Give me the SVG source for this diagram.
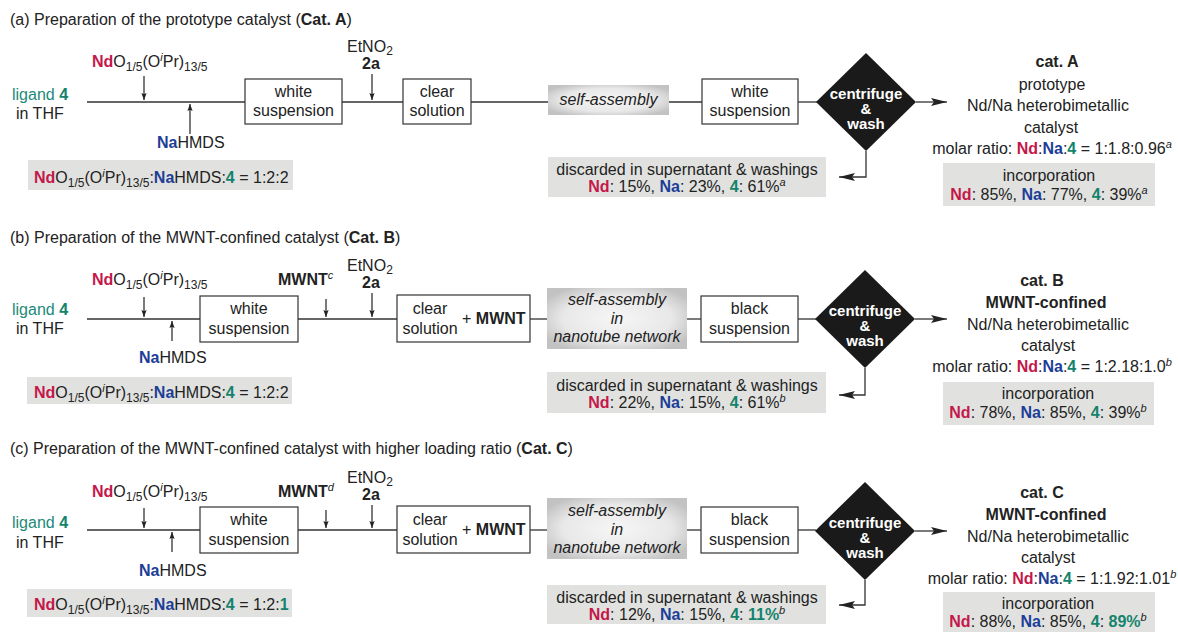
<svg xmlns="http://www.w3.org/2000/svg" width="1178" height="632" viewBox="0 0 1178 632">
<defs>
<style>
.t{font-family:"Liberation Sans",Arial,sans-serif;font-size:16px;fill:#222}
.c{text-anchor:middle}
.b{font-weight:bold}
.nd{fill:#c4184b;font-weight:bold}
.na{fill:#1d3e97;font-weight:bold}
.l4{fill:#14836c;font-weight:bold}
.lg{fill:#1d8a78}
.box{fill:#fff;stroke:#333;stroke-width:1.2}
.gray{fill:#e1e2e0}
.sa{fill:url(#sg)}
.ln{stroke:#333;stroke-width:1.3;fill:none}
.dia{fill:#1a1a1a}
.dt{font-family:"Liberation Sans",Arial,sans-serif;font-size:15px;font-weight:bold;fill:#fff;text-anchor:middle}
.sub{font-size:12px}
.sup{font-size:11px;font-style:italic}
</style>
<radialGradient id="sg" cx="0.5" cy="0.5" r="0.6">
<stop offset="0" stop-color="#f6f6f6"/>
<stop offset="0.65" stop-color="#e8e8e8"/>
<stop offset="1" stop-color="#c2c2c2"/>
</radialGradient>
<marker id="sm" viewBox="0 0 8 6" refX="8" refY="3" markerWidth="7" markerHeight="5.5" markerUnits="userSpaceOnUse" orient="auto"><path d="M0,0 L8,3 L0,6 L1.5,3z" fill="#222"/></marker>
<marker id="bg" viewBox="0 0 16 8" refX="16" refY="4" markerWidth="16" markerHeight="8" markerUnits="userSpaceOnUse" orient="auto"><path d="M0,0 L16,4 L0,8 L3,4z" fill="#222"/></marker>
</defs>
<rect width="1178" height="632" fill="#fff"/>

<g id="connectors">
<!-- a -->
<line class="ln" x1="87" y1="102" x2="245" y2="102"/>
<line class="ln" x1="342" y1="102" x2="403" y2="102"/>
<line class="ln" x1="471" y1="102" x2="548" y2="102"/>
<line class="ln" x1="669" y1="102" x2="702" y2="102"/>
<line class="ln" x1="798" y1="102" x2="817" y2="102"/>
<line class="ln" x1="144" y1="76" x2="144" y2="100" marker-end="url(#sm)"/>
<line class="ln" x1="190" y1="134" x2="190" y2="104" marker-end="url(#sm)"/>
<line class="ln" x1="372" y1="74" x2="372" y2="100" marker-end="url(#sm)"/>
<line class="ln" x1="916" y1="102" x2="947" y2="102" marker-end="url(#bg)"/>
<polyline class="ln" points="866,151 866,177 839,177" marker-end="url(#bg)"/>
<!-- b -->
<line class="ln" x1="87" y1="319" x2="200" y2="319"/>
<line class="ln" x1="298" y1="319" x2="397" y2="319"/>
<line class="ln" x1="530" y1="319" x2="547" y2="319"/>
<line class="ln" x1="687" y1="319" x2="701" y2="319"/>
<line class="ln" x1="798" y1="319" x2="816" y2="319"/>
<line class="ln" x1="144" y1="297" x2="144" y2="317" marker-end="url(#sm)"/>
<line class="ln" x1="172" y1="341" x2="172" y2="321" marker-end="url(#sm)"/>
<line class="ln" x1="326" y1="299" x2="326" y2="317" marker-end="url(#sm)"/>
<line class="ln" x1="372" y1="293" x2="372" y2="317" marker-end="url(#sm)"/>
<line class="ln" x1="915" y1="319" x2="947" y2="319" marker-end="url(#bg)"/>
<polyline class="ln" points="865,368 865,395 839,395" marker-end="url(#bg)"/>
<!-- c -->
<line class="ln" x1="87" y1="530" x2="200" y2="530"/>
<line class="ln" x1="298" y1="530" x2="397" y2="530"/>
<line class="ln" x1="530" y1="530" x2="547" y2="530"/>
<line class="ln" x1="687" y1="530" x2="701" y2="530"/>
<line class="ln" x1="798" y1="530" x2="816" y2="530"/>
<line class="ln" x1="144" y1="508" x2="144" y2="528" marker-end="url(#sm)"/>
<line class="ln" x1="172" y1="552" x2="172" y2="532" marker-end="url(#sm)"/>
<line class="ln" x1="326" y1="510" x2="326" y2="528" marker-end="url(#sm)"/>
<line class="ln" x1="372" y1="505" x2="372" y2="528" marker-end="url(#sm)"/>
<line class="ln" x1="915" y1="531" x2="947" y2="531" marker-end="url(#bg)"/>
<polyline class="ln" points="865,580 865,605 839,605" marker-end="url(#bg)"/>
</g>

<!-- ================= Section (a) ================= -->
<text class="t" x="10" y="25">(a) Preparation of the prototype catalyst (<tspan class="b">Cat. A</tspan>)</text>
<g id="a-ligand">
<text class="t lg" x="12" y="100">ligand <tspan class="l4">4</tspan></text>
<text class="t" x="16" y="119">in THF</text>
</g>
<g id="a-nd">
<text class="t" x="92" y="67"><tspan class="nd">Nd</tspan>O<tspan class="sub" dy="4">1/5</tspan><tspan dy="-4">(O</tspan><tspan class="sup" dy="-6">i</tspan><tspan dy="6">Pr)</tspan><tspan class="sub" dy="4">13/5</tspan></text>
</g>
<g id="a-nahmds"><text class="t" x="157" y="148"><tspan class="na">Na</tspan>HMDS</text></g>
<g id="a-etno2">
<text class="t" x="347" y="52">EtNO<tspan class="sub" dy="3">2</tspan></text>
<text class="t b c" x="371" y="69">2a</text>
</g>
<g id="a-ratio">
<rect class="gray" x="28" y="160" width="265" height="30"/>
<text class="t" x="34" y="183"><tspan class="nd">Nd</tspan>O<tspan class="sub" dy="4">1/5</tspan><tspan dy="-4">(O</tspan><tspan class="sup" dy="-6">i</tspan><tspan dy="6">Pr)</tspan><tspan class="sub" dy="4">13/5</tspan><tspan dy="-4">:</tspan><tspan class="na">Na</tspan>HMDS:<tspan class="l4">4</tspan> = 1:2:2</text>
</g>
<g id="a-white1">
<rect class="box" x="245" y="79" width="97" height="45"/>
<text class="t c" x="293.5" y="97">white</text>
<text class="t c" x="293.5" y="116">suspension</text>
</g>
<g id="a-clear">
<rect class="box" x="403" y="79" width="68" height="45"/>
<text class="t c" x="437" y="97">clear</text>
<text class="t c" x="437" y="116">solution</text>
</g>
<g id="a-self">
<rect class="sa" x="548" y="85" width="121" height="30"/>
<text class="t c" x="608.5" y="105" font-style="italic">self-assembly</text>
</g>
<g id="a-white2">
<rect class="box" x="702" y="79" width="96" height="45"/>
<text class="t c" x="750" y="97">white</text>
<text class="t c" x="750" y="116">suspension</text>
</g>
<g id="a-centrifuge">
<polygon class="dia" points="866,53 916,102 866,151 816,102"/>
<text class="dt" x="866" y="99">centrifuge</text>
<text class="dt" x="866" y="114">&amp;</text>
<text class="dt" x="866" y="129">wash</text>
</g>
<g id="a-discard">
<rect class="gray" x="548" y="157" width="278" height="40"/>
<text class="t c" x="687" y="175">discarded in supernatant &amp; washings</text>
<text class="t c" x="687" y="192"><tspan class="nd">Nd</tspan>: 15%, <tspan class="na">Na</tspan>: 23%, <tspan class="l4">4</tspan>: 61%<tspan class="sup" dy="-6">a</tspan></text>
</g>
<g id="a-cat">
<text class="t c b" x="1057" y="67">cat. A</text>
<text class="t c" x="1052" y="90">prototype</text>
<text class="t c" x="1048" y="111">Nd/Na heterobimetallic</text>
<text class="t c" x="1051" y="133">catalyst</text>
<text class="t c" x="1052" y="154">molar ratio: <tspan class="nd">Nd</tspan>:<tspan class="na">Na</tspan>:<tspan class="l4">4</tspan> = 1:1.8:0.96<tspan class="sup" dy="-6">a</tspan></text>
<rect class="gray" x="943" y="163" width="212" height="43"/>
<text class="t c" x="1049" y="181">incorporation</text>
<text class="t c" x="1049" y="200"><tspan class="nd">Nd</tspan>: 85%, <tspan class="na">Na</tspan>: 77%, <tspan class="l4">4</tspan>: 39%<tspan class="sup" dy="-6">a</tspan></text>
</g>

<!-- ================= Section (b) ================= -->
<text class="t" x="10" y="243">(b) Preparation of the MWNT-confined catalyst (<tspan class="b">Cat. B</tspan>)</text>
<g id="b-ligand">
<text class="t lg" x="12" y="315">ligand <tspan class="l4">4</tspan></text>
<text class="t" x="16" y="334">in THF</text>
</g>
<g id="b-nd">
<text class="t" x="92" y="285"><tspan class="nd">Nd</tspan>O<tspan class="sub" dy="4">1/5</tspan><tspan dy="-4">(O</tspan><tspan class="sup" dy="-6">i</tspan><tspan dy="6">Pr)</tspan><tspan class="sub" dy="4">13/5</tspan></text>
</g>
<g id="b-nahmds"><text class="t" x="139" y="363"><tspan class="na">Na</tspan>HMDS</text></g>
<g id="b-mwnt"><text class="t b" x="278" y="285">MWNT<tspan class="sup" font-weight="normal" dy="-6">c</tspan></text></g>
<g id="b-etno2">
<text class="t" x="347" y="271">EtNO<tspan class="sub" dy="3">2</tspan></text>
<text class="t b c" x="371" y="288">2a</text>
</g>
<g id="b-ratio">
<rect class="gray" x="27" y="377" width="265" height="27"/>
<text class="t" x="34" y="398"><tspan class="nd">Nd</tspan>O<tspan class="sub" dy="4">1/5</tspan><tspan dy="-4">(O</tspan><tspan class="sup" dy="-6">i</tspan><tspan dy="6">Pr)</tspan><tspan class="sub" dy="4">13/5</tspan><tspan dy="-4">:</tspan><tspan class="na">Na</tspan>HMDS:<tspan class="l4">4</tspan> = 1:2:2</text>
</g>
<g id="b-white">
<rect class="box" x="200" y="296" width="98" height="46"/>
<text class="t c" x="249" y="314">white</text>
<text class="t c" x="249" y="334">suspension</text>
</g>
<g id="b-clear">
<rect class="box" x="397" y="295" width="133" height="47"/>
<text class="t c" x="430" y="314">clear</text>
<text class="t c" x="430" y="334">solution</text>
<text class="t" x="462" y="324">+ <tspan class="b">MWNT</tspan></text>
</g>
<g id="b-self">
<rect class="sa" x="547" y="288" width="140" height="61"/>
<text class="t c" x="617" y="305" font-style="italic">self-assembly</text>
<text class="t c" x="617" y="324" font-style="italic">in</text>
<text class="t c" x="617" y="342" font-style="italic">nanotube network</text>
</g>
<g id="b-black">
<rect class="box" x="701" y="296" width="97" height="46"/>
<text class="t c" x="749.5" y="314">black</text>
<text class="t c" x="749.5" y="334">suspension</text>
</g>
<g id="b-centrifuge">
<polygon class="dia" points="865,270 915,319 865,368 815,319"/>
<text class="dt" x="865" y="316">centrifuge</text>
<text class="dt" x="865" y="331">&amp;</text>
<text class="dt" x="865" y="346">wash</text>
</g>
<g id="b-discard">
<rect class="gray" x="547" y="372" width="279" height="41"/>
<text class="t c" x="687" y="391">discarded in supernatant &amp; washings</text>
<text class="t c" x="687" y="408"><tspan class="nd">Nd</tspan>: 22%, <tspan class="na">Na</tspan>: 15%, <tspan class="l4">4</tspan>: 61%<tspan class="sup" dy="-6">b</tspan></text>
</g>
<g id="b-cat">
<text class="t c b" x="1042" y="286">cat. B</text>
<text class="t c b" x="1046" y="308">MWNT-confined</text>
<text class="t c" x="1048" y="330">Nd/Na heterobimetallic</text>
<text class="t c" x="1048" y="351">catalyst</text>
<text class="t c" x="1052" y="372">molar ratio: <tspan class="nd">Nd</tspan>:<tspan class="na">Na</tspan>:<tspan class="l4">4</tspan> = 1:2.18:1.0<tspan class="sup" dy="-6">b</tspan></text>
<rect class="gray" x="943" y="382" width="211" height="43"/>
<text class="t c" x="1048" y="399">incorporation</text>
<text class="t c" x="1048" y="418"><tspan class="nd">Nd</tspan>: 78%, <tspan class="na">Na</tspan>: 85%, <tspan class="l4">4</tspan>: 39%<tspan class="sup" dy="-6">b</tspan></text>
</g>

<!-- ================= Section (c) ================= -->
<text class="t" x="10" y="454">(c) Preparation of the MWNT-confined catalyst with higher loading ratio (<tspan class="b">Cat. C</tspan>)</text>
<g id="c-ligand">
<text class="t lg" x="12" y="528">ligand <tspan class="l4">4</tspan></text>
<text class="t" x="16" y="548">in THF</text>
</g>
<g id="c-nd">
<text class="t" x="92" y="497"><tspan class="nd">Nd</tspan>O<tspan class="sub" dy="4">1/5</tspan><tspan dy="-4">(O</tspan><tspan class="sup" dy="-6">i</tspan><tspan dy="6">Pr)</tspan><tspan class="sub" dy="4">13/5</tspan></text>
</g>
<g id="c-nahmds"><text class="t" x="139" y="576"><tspan class="na">Na</tspan>HMDS</text></g>
<g id="c-mwnt"><text class="t b" x="278" y="497">MWNT<tspan class="sup" font-weight="normal" dy="-6">d</tspan></text></g>
<g id="c-etno2">
<text class="t" x="347" y="483">EtNO<tspan class="sub" dy="3">2</tspan></text>
<text class="t b c" x="371" y="500">2a</text>
</g>
<g id="c-ratio">
<rect class="gray" x="27" y="589" width="265" height="28"/>
<text class="t" x="34" y="610"><tspan class="nd">Nd</tspan>O<tspan class="sub" dy="4">1/5</tspan><tspan dy="-4">(O</tspan><tspan class="sup" dy="-6">i</tspan><tspan dy="6">Pr)</tspan><tspan class="sub" dy="4">13/5</tspan><tspan dy="-4">:</tspan><tspan class="na">Na</tspan>HMDS:<tspan class="l4">4</tspan> = 1:2:<tspan class="l4">1</tspan></text>
</g>
<g id="c-white">
<rect class="box" x="200" y="507" width="98" height="46"/>
<text class="t c" x="249" y="525">white</text>
<text class="t c" x="249" y="545">suspension</text>
</g>
<g id="c-clear">
<rect class="box" x="397" y="506" width="133" height="47"/>
<text class="t c" x="430" y="525">clear</text>
<text class="t c" x="430" y="545">solution</text>
<text class="t" x="462" y="535">+ <tspan class="b">MWNT</tspan></text>
</g>
<g id="c-self">
<rect class="sa" x="547" y="498" width="140" height="61"/>
<text class="t c" x="617" y="516" font-style="italic">self-assembly</text>
<text class="t c" x="617" y="535" font-style="italic">in</text>
<text class="t c" x="617" y="553" font-style="italic">nanotube network</text>
</g>
<g id="c-black">
<rect class="box" x="701" y="507" width="97" height="46"/>
<text class="t c" x="749.5" y="525">black</text>
<text class="t c" x="749.5" y="545">suspension</text>
</g>
<g id="c-centrifuge">
<polygon class="dia" points="865,482 915,531 865,580 815,531"/>
<text class="dt" x="865" y="528">centrifuge</text>
<text class="dt" x="865" y="543">&amp;</text>
<text class="dt" x="865" y="558">wash</text>
</g>
<g id="c-discard">
<rect class="gray" x="547" y="585" width="279" height="39"/>
<text class="t c" x="687" y="603">discarded in supernatant &amp; washings</text>
<text class="t c" x="687" y="620"><tspan class="nd">Nd</tspan>: 12%, <tspan class="na">Na</tspan>: 15%, <tspan class="l4">4</tspan>: <tspan class="l4">11%</tspan><tspan class="sup" dy="-6">b</tspan></text>
</g>
<g id="c-cat">
<text class="t c b" x="1042" y="498">cat. C</text>
<text class="t c b" x="1046" y="520">MWNT-confined</text>
<text class="t c" x="1048" y="542">Nd/Na heterobimetallic</text>
<text class="t c" x="1048" y="563">catalyst</text>
<text class="t c" x="1052" y="584">molar ratio: <tspan class="nd">Nd</tspan>:<tspan class="na">Na</tspan>:<tspan class="l4">4</tspan> = 1:1.92:1.01<tspan class="sup" dy="-6">b</tspan></text>
<rect class="gray" x="943" y="592" width="212" height="40"/>
<text class="t c" x="1048" y="609">incorporation</text>
<text class="t c" x="1048" y="627"><tspan class="nd">Nd</tspan>: 88%, <tspan class="na">Na</tspan>: 85%, <tspan class="l4">4</tspan>: <tspan class="l4">89%</tspan><tspan class="sup" dy="-6">b</tspan></text>
</g>
</svg>
